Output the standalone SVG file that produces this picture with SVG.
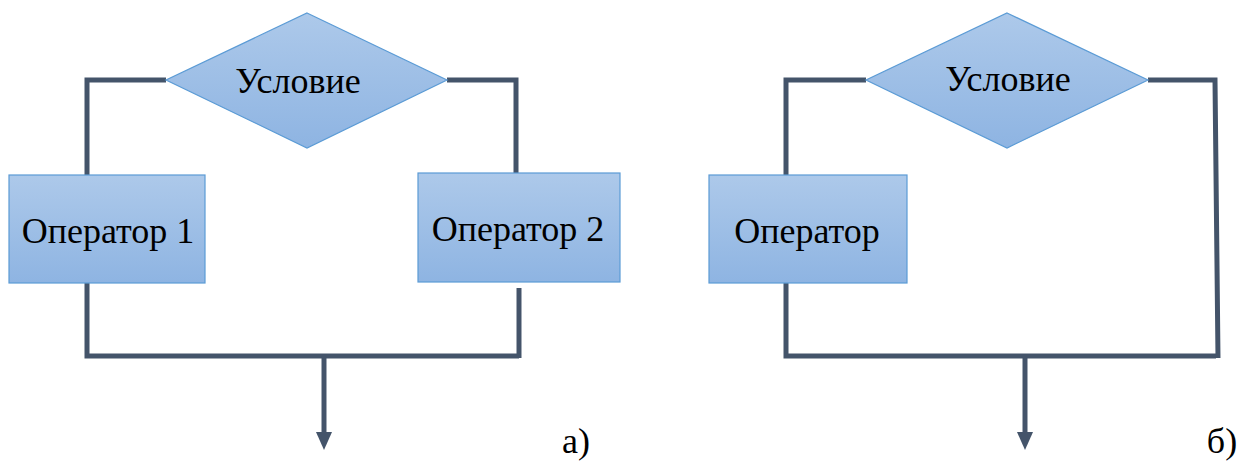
<svg xmlns="http://www.w3.org/2000/svg" width="1259" height="461" viewBox="0 0 1259 461">
<style>
.shape{stroke:#5B9BD5;stroke-width:1.2;fill:url(#g)}
.t{font-family:'Liberation Serif','DejaVu Serif',serif;font-size:36px;fill:#000;text-anchor:middle}
.c{fill:none;stroke:#44546A;stroke-width:5;stroke-linejoin:miter}
</style>
<defs>
<linearGradient id="g" x1="0" y1="0" x2="0" y2="1">
<stop offset="0" stop-color="#ADC9EA"/>
<stop offset="1" stop-color="#8EB4E2"/>
</linearGradient>
</defs>
<g id="connectors">
<polyline class="c" points="166,80 87,80 87,175"/>
<polyline class="c" points="447,80 516,80 516,173"/>
<polyline class="c" points="87,283 87,356 519,356"/>
<line class="c" x1="519" y1="288" x2="519" y2="358"/>
<line class="c" x1="324" y1="356" x2="324" y2="433"/>
<path d="M316,432 L332,432 L324,450 Z" fill="#44546A"/>
<polyline class="c" points="866,80 786,80 786,175"/>
<polyline class="c" points="1148,80 1215,80 1218,358"/>
<polyline class="c" points="786,283 786,356 1216,356"/>
<line class="c" x1="1025" y1="356" x2="1025" y2="433"/>
<path d="M1017,432 L1033,432 L1025,450 Z" fill="#44546A"/>
</g>
<g id="cond-a">
<polygon class="shape" points="307,13 447,80 307,148 166,80"/>
<text class="t" x="298" y="93" font-family="Liberation Serif">Условие</text>
</g>
<g id="op1">
<rect class="shape" x="9" y="175" width="196" height="108"/>
<text class="t" x="108" y="243" font-family="Liberation Serif">Оператор 1</text>
</g>
<g id="op2">
<rect class="shape" x="418" y="173" width="202" height="109"/>
<text class="t" x="518" y="241" font-family="Liberation Serif">Оператор 2</text>
</g>
<g id="cond-b">
<polygon class="shape" points="1007,13 1148,80 1007,148 866,80"/>
<text class="t" x="1008" y="91" font-family="Liberation Serif">Условие</text>
</g>
<g id="op">
<rect class="shape" x="709" y="175" width="198" height="108"/>
<text class="t" x="807" y="243" font-family="Liberation Serif">Оператор</text>
</g>
<text class="t" x="576" y="453" font-family="Liberation Serif">а)</text>
<text class="t" x="1222" y="453" font-family="Liberation Serif">б)</text>
</svg>
